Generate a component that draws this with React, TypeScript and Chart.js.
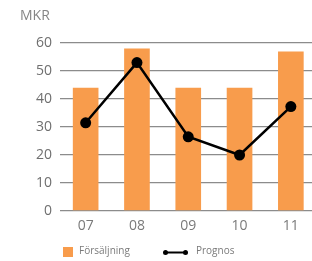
import React, { useEffect, useRef } from "react";
import { Chart, registerables } from "chart.js";

Chart.register(...registerables);

const categories = ["07", "08", "09", "10", "11"];
const salesValues = [44, 58, 44, 44, 57];
const forecastValues = [31.5, 53, 26.5, 20, 37.3];
const yTicks = [0, 10, 20, 30, 40, 50, 60];
const unitLabel = "MKR";
const salesLabel = "Försäljning";
const forecastLabel = "Prognos";

const ORANGE = "#F89C4C";
const FONT = "'Open Sans', 'DejaVu Sans', sans-serif";

const overlay = {
  id: "overlay",
  afterDraw(chart: any) {
    const ctx = chart.ctx;
    ctx.save();
    ctx.fillStyle = "#858585";
    ctx.font = `14px ${FONT}`;
    ctx.textBaseline = "middle";
    ctx.textAlign = "left";
    ctx.fillText(unitLabel, 20, 16);

    // legend
    ctx.fillStyle = ORANGE;
    ctx.fillRect(63, 247, 10, 10);
    ctx.fillStyle = "#7a7a7a";
    ctx.font = `10px ${FONT}`;
    ctx.fillText(salesLabel, 79, 251);

    ctx.strokeStyle = "#000";
    ctx.lineWidth = 2;
    ctx.beginPath();
    ctx.moveTo(165.5, 252.5);
    ctx.lineTo(185.5, 252.5);
    ctx.stroke();
    ctx.fillStyle = "#000";
    for (const x of [165.5, 185.5]) {
      ctx.beginPath();
      ctx.arc(x, 252.5, 2.5, 0, Math.PI * 2);
      ctx.fill();
    }
    ctx.fillStyle = "#7a7a7a";
    ctx.fillText(forecastLabel, 196, 251);
    ctx.restore();
  },
};

export default function App() {
  const ref = useRef<HTMLCanvasElement>(null);
  useEffect(() => {
    document.body.style.overflow = "hidden";
    const chart = new Chart(ref.current as HTMLCanvasElement, {
      type: "bar",
      data: {
        labels: categories,
        datasets: [
          {
            type: "line",
            label: forecastLabel,
            data: forecastValues,
            borderColor: "#000",
            backgroundColor: "#000",
            borderWidth: 2.5,
            pointRadius: 5.5,
            pointBackgroundColor: "#000",
            pointBorderWidth: 0,
            tension: 0,
            order: 0,
          } as any,
          {
            type: "bar",
            label: salesLabel,
            data: salesValues,
            backgroundColor: ORANGE,
            categoryPercentage: 1,
            barPercentage: 0.5,
            order: 1,
          },
        ],
      },
      options: {
        responsive: false,
        animation: false,
        layout: { padding: { top: 43, left: 0, right: 0, bottom: 0 } },
        plugins: { legend: { display: false }, tooltip: { enabled: false } },
        scales: {
          x: {
            grid: { display: false, drawTicks: false },
            border: { display: false },
            ticks: {
              color: "#7a7a7a",
              font: { family: FONT, size: 14 },
              padding: 7,
            },
            afterFit(scale: any) {
              scale.height = 50;
            },
          },
          y: {
            min: 0,
            max: 60,
            afterBuildTicks(scale: any) {
              scale.ticks = yTicks.map((v) => ({ value: v }));
            },
            grid: { color: "#8c8c8c", lineWidth: 1.3, drawTicks: false },
            border: { display: false },
            ticks: {
              color: "#6f6f6f",
              font: { family: FONT, size: 14 },
              padding: 8,
            },
            afterFit(scale: any) {
              scale.width = 60;
            },
          },
        },
      },
      plugins: [overlay],
    });
    return () => chart.destroy();
  }, []);
  return (
    <div style={{ position: "absolute", left: 0, top: 0, width: 322, height: 261 }}>
      <canvas ref={ref} width={322} height={261} />
    </div>
  );
}
